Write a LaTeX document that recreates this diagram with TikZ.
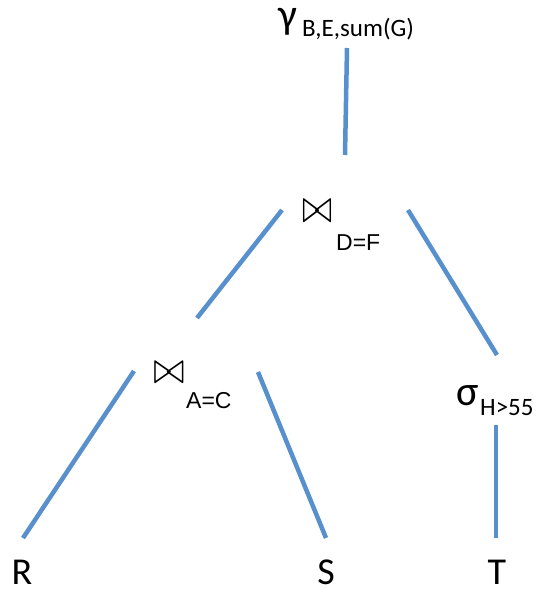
\documentclass[tikz,border=0pt]{standalone}
\usepackage{fontspec}
\setmainfont{Carlito}
\newfontfamily\arialish{Liberation Sans}
\definecolor{edgeblue}{RGB}{88,144,206}
\tikzset{
  edge/.style={draw=edgeblue, line width=4.5pt},
  big/.style={inner sep=1pt, font=\fontsize{38}{40}\selectfont},
  greek/.style={inner sep=1pt, font=\fontsize{42}{44}\selectfont},
  sub/.style={inner sep=1pt, font=\fontsize{25}{28}\selectfont},
  subarial/.style={inner sep=1pt, font=\arialish\fontsize{23}{26}\selectfont},
  tie/.style={inner sep=1pt}
}
\begin{document}
\begin{tikzpicture}[x=1pt,y=-1pt]
\useasboundingbox (0,0) rectangle (540,589);
% gamma
\node[greek, anchor=base west] (gam) at (277,28) {γ};
\node[sub, anchor=base west] (gams) at (301,36) {B,E,sum(G)};
% join D=F
\node[tie] (j1) at (317,211) {\resizebox{30pt}{22pt}{$\bowtie$}};
\node[subarial, anchor=base west] (j1s) at (335,250) {D=F};
% join A=C
\node[tie] (j2) at (169,373) {\resizebox{31pt}{21pt}{$\bowtie$}};
\node[subarial, anchor=base west] (j2s) at (185,408) {A=C};
% sigma
\node[greek, anchor=base west] (sig) at (455,405) {σ};
\node[sub, anchor=base west] (sigs) at (479,415) {H>55};
% leaves
\node[big, anchor=base] (R) at (22,584) {R};
\node[big, anchor=base] (S) at (326,584) {S};
\node[big, anchor=base] (T) at (497,584) {T};
% connector ends
\coordinate (g1) at (347,48);  \coordinate (g2) at (345,155);
\coordinate (a1) at (282,210); \coordinate (a2) at (197,318);
\coordinate (b1) at (408,210); \coordinate (b2) at (497,355);
\coordinate (c1) at (134,371); \coordinate (c2) at (23,538);
\coordinate (d1) at (258,372); \coordinate (d2) at (326,538);
\coordinate (e1) at (496,425); \coordinate (e2) at (496,538);
\draw[edge] (g1) -- (g2);
\draw[edge] (a1) -- (a2);
\draw[edge] (b1) -- (b2);
\draw[edge] (c1) -- (c2);
\draw[edge] (d1) -- (d2);
\draw[edge] (e1) -- (e2);
\end{tikzpicture}
\end{document}
